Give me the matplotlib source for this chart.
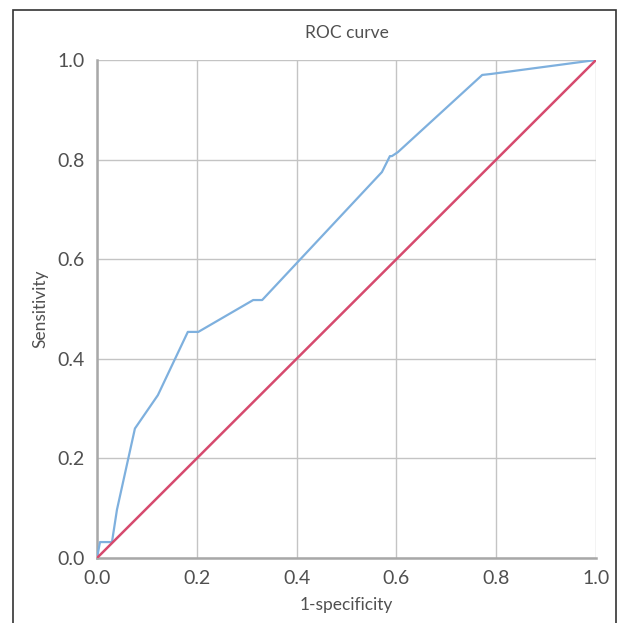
import matplotlib.pyplot as plt
from matplotlib.patches import Rectangle

# ROC points
fpr = [0.0, 0.006, 0.030, 0.040, 0.076, 0.122, 0.182, 0.203, 0.313, 0.331,
       0.571, 0.587, 0.591, 0.603, 0.772, 0.790, 1.0]
tpr = [0.0, 0.032, 0.032, 0.097, 0.260, 0.327, 0.454, 0.454, 0.518, 0.518,
       0.775, 0.807, 0.807, 0.815, 0.970, 0.972, 1.0]
diag = [0.0, 1.0]
ticks = [0.0, 0.2, 0.4, 0.6, 0.8, 1.0]
tick_labels = ['0.0', '0.2', '0.4', '0.6', '0.8', '1.0']

plt.rcParams['font.family'] = ['Lato', 'DejaVu Sans']

fig = plt.figure(figsize=(6.18, 6.23), dpi=100)
ax = fig.add_axes([97/618, 65/623, 499/618, 498/623])

ax.plot(fpr, tpr, color='#7eb0de', lw=1.6, zorder=3)
ax.plot(diag, diag, color='#d64a6e', lw=1.8, zorder=3)

ax.set_xlim(0, 1)
ax.set_ylim(0, 1)
ax.set_xticks(ticks)
ax.set_yticks(ticks)
ax.set_xticklabels(tick_labels)
ax.set_yticklabels(tick_labels)
ax.tick_params(length=0, labelsize=14, colors='#505050', pad=9)
ax.grid(True, color='#c4c4c4', lw=1.0)
for s in ['top', 'right']:
    ax.spines[s].set_visible(False)
for s in ['left', 'bottom']:
    ax.spines[s].set_color('#a8a8a8')
    ax.spines[s].set_linewidth(1.8)

ax.set_title('ROC curve', fontsize=12.5, color='#505050', pad=16)
ax.set_xlabel('1-specificity', fontsize=12.5, color='#505050', labelpad=7)
ax.set_ylabel('Sensitivity', fontsize=12.5, color='#505050', labelpad=6)

# outer frame
fig.patches.append(Rectangle((13/618, -0.02), 603/618, 1.02 - 10/623,
                             transform=fig.transFigure, fill=False,
                             edgecolor='#333333', lw=1.2))

fig.savefig('out.png', dpi=100)
